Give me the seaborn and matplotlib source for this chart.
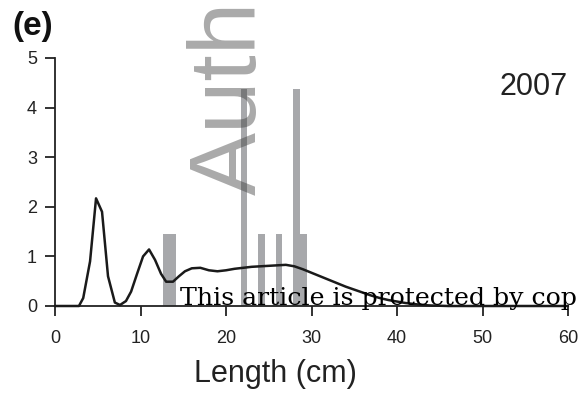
import matplotlib
matplotlib.use("Agg")
import matplotlib.pyplot as plt
import seaborn as sns
import pandas as pd

# Observed length-frequency (% of catch) per length class
bar_lengths = [13.03, 13.81, 22.1, 24.2, 26.2, 28.25, 29.05]
bar_percent = [1.46, 1.46, 4.38, 1.46, 1.46, 4.38, 1.46]

# Smoothed length distribution (%)
curve_length = [0, 2.8, 3.3, 4.1, 4.8, 5.5, 6.2, 7.0, 7.6, 8.3, 8.9, 9.6, 10.3,
                11.0, 11.7, 12.4, 13.0, 13.8, 14.5, 15.2, 16.0, 17.0, 18.0, 19.0,
                20.0, 21.0, 22.0, 23.0, 24.0, 25.0, 26.0, 27.0, 28.0, 29.0, 30.0,
                31.0, 32.0, 33.0, 34.0, 35.0, 36.0, 37.0, 38.0, 39.0, 40.0, 41.0,
                42.0, 43.0, 44.0, 46.0, 48.0, 60.0]
curve_percent = [0, 0, 0.16, 0.9, 2.17, 1.9, 0.6, 0.07, 0.02, 0.1, 0.29, 0.65, 1.0,
                 1.14, 0.93, 0.65, 0.49, 0.49, 0.6, 0.7, 0.76, 0.77, 0.72, 0.70,
                 0.72, 0.75, 0.77, 0.79, 0.80, 0.81, 0.82, 0.83, 0.80, 0.74, 0.67,
                 0.60, 0.53, 0.46, 0.39, 0.33, 0.27, 0.21, 0.16, 0.12, 0.09, 0.06,
                 0.04, 0.02, 0.01, 0.0, 0.0, 0.0]

x_ticks = [0, 10, 20, 30, 40, 50, 60]
y_ticks = [0, 1, 2, 3, 4, 5]

sns.set_theme(style="ticks")
plt.rcParams["font.family"] = ["Liberation Sans", "DejaVu Sans"]

W, H = 583, 393
fig = plt.figure(figsize=(W / 100, H / 100), dpi=100)
ax = fig.add_axes([55 / W, 87 / H, 513 / W, 248 / H])

ax.bar(bar_lengths, bar_percent, width=0.8, color="#a7a8ab", linewidth=0, zorder=1)

curve = pd.DataFrame({"length": curve_length, "percent": curve_percent})
sns.lineplot(data=curve, x="length", y="percent", ax=ax, color="#1a1a1a",
             linewidth=1.8, zorder=3, clip_on=False)

ax.set_xlim(0, 60)
ax.set_ylim(0, 5)
ax.set_xticks(x_ticks)
ax.set_yticks(y_ticks)
ax.tick_params(axis="both", direction="out", length=7, width=1.3, color="#222222",
               labelsize=13, labelcolor="#222222")
ax.tick_params(axis="y", pad=6)
ax.tick_params(axis="x", pad=10)
for side in ("top", "right"):
    ax.spines[side].set_visible(False)
for side in ("left", "bottom"):
    ax.spines[side].set_linewidth(1.3)
    ax.spines[side].set_color("#222222")

ax.set_xlabel("")
ax.set_ylabel("")
fig.text(275 / W, 1 - 374 / H, "Length (cm)", ha="center", va="center",
         fontsize=22, color="#222222")

ax.text(60, 4.42, "2007", ha="right", va="center", fontsize=22, color="#222222")
fig.text(12 / W, 1 - 27 / H, "(e)", ha="left", va="center", fontsize=24,
         fontweight="bold", color="#111111")

# Repository watermark and notice
fig.text(187 / W, 1 - 195 / H, "Auth", rotation=90, ha="left",
         va="bottom", fontsize=68, color="#3a3a3a", alpha=0.43, zorder=5)
fig.text(180 / W, 1 - 305 / H, "This article is protected by cop",
         ha="left", va="baseline", fontsize=18.2, family=["DejaVu Serif"],
         color="black", zorder=6)

fig.savefig("out.png", dpi=100)
